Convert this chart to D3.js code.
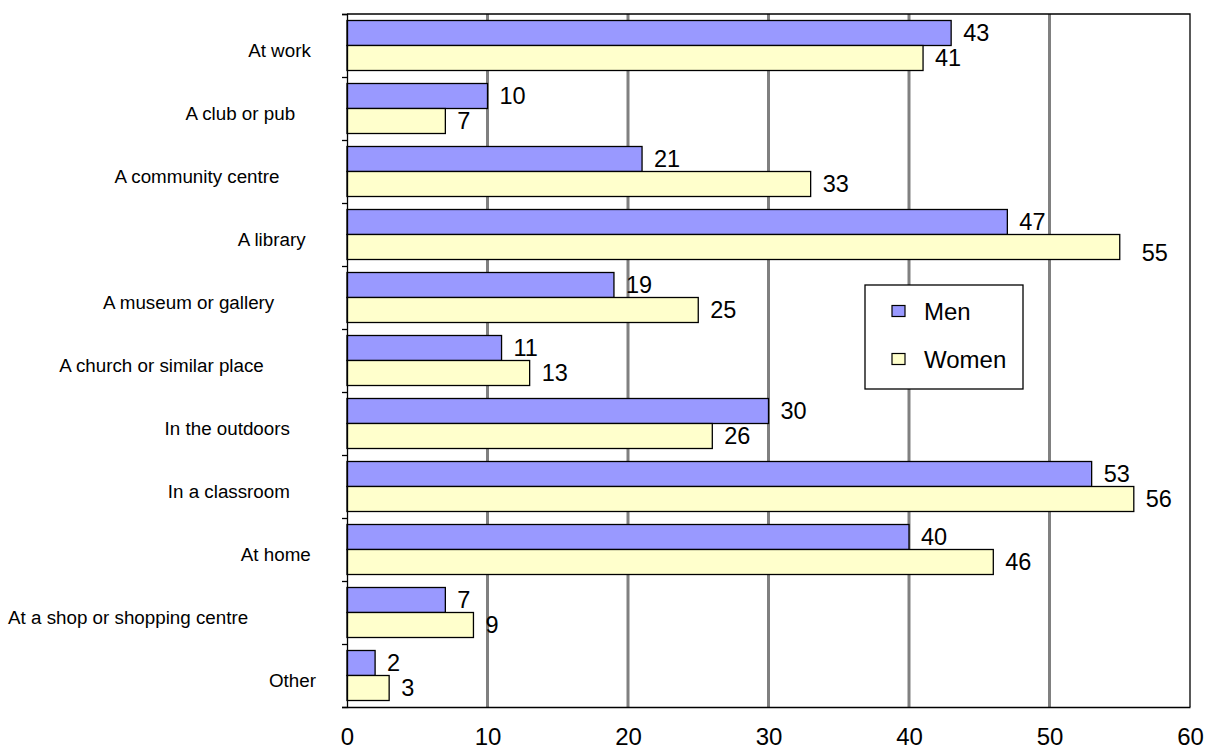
<!DOCTYPE html>
<html>
<head>
<meta charset="utf-8">
<script src="https://cdn.jsdelivr.net/npm/d3@7"></script>
<style>
  html, body { margin: 0; padding: 0; background: #ffffff; }
  svg { display: block; font-family: Arial, "Liberation Sans", sans-serif; }
  .cat { white-space: pre; }
</style>
</head>
<body>
<svg id="chart" width="1211" height="749"></svg>
<script>
// Where people learn: share of men and women (%) by place
const categories = [
  "At work ",
  "A club or pub    ",
  "A community centre       ",
  "A library  ",
  "A museum or gallery        ",
  "A church or similar place          ",
  "In the outdoors     ",
  "In a classroom     ",
  "At home ",
  "At a shop or shopping centre             ",
  "Other"
];
const seriesNames = ["Men", "Women"];
const menValues   = [43, 10, 21, 47, 19, 11, 30, 53, 40, 7, 2];
const womenValues = [41, 7, 33, 55, 25, 13, 26, 56, 46, 9, 3];
const xTicks = [0, 10, 20, 30, 40, 50, 60];
const gridValues = [10, 20, 30, 40, 50];

const colors = { Men: "#9999ff", Women: "#ffffcc" };

const svg = d3.select("#chart");
const plot = { left: 347, right: 1190, top: 14, bottom: 707 };

const x = d3.scaleLinear().domain([0, 60]).range([plot.left, plot.right]);
const y = d3.scaleBand().domain(categories).range([plot.top, plot.bottom]).padding(0);
const ySub = d3.scaleBand().domain(seriesNames).range([0, y.bandwidth()])
  .paddingInner(0).paddingOuter(0.26);
const yEdge = d3.scaleLinear().domain([0, categories.length]).range([plot.top, plot.bottom]);

const rows = categories.map((c, i) => ({ cat: c, Men: menValues[i], Women: womenValues[i] }));

// gridlines
svg.append("g").selectAll("line").data(gridValues).join("line")
  .attr("x1", d => x(d)).attr("x2", d => x(d))
  .attr("y1", plot.top).attr("y2", plot.bottom)
  .attr("stroke", "#808080").attr("stroke-width", 3);

// plot frame (top and right)
svg.append("path")
  .attr("d", `M${plot.left},${plot.top}H${plot.right}V${plot.bottom}`)
  .attr("fill", "none").attr("stroke", "#000").attr("stroke-width", 1.3);

// bars
const groups = svg.append("g").selectAll("g").data(rows).join("g")
  .attr("transform", d => `translate(0,${y(d.cat)})`);

groups.selectAll("rect").data(d => seriesNames.map(s => ({ s, v: d[s], cat: d.cat }))).join("rect")
  .attr("x", x(0))
  .attr("y", d => ySub(d.s))
  .attr("width", d => x(d.v) - x(0))
  .attr("height", ySub.bandwidth())
  .attr("fill", d => colors[d.s])
  .attr("stroke", "#000").attr("stroke-width", 1.3);

// value labels (the library/women label sits clear of the gridline)
const nudge = d => (d.cat.trim() === "A library" && d.s === "Women") ? [10, 6] : [0, 0];
groups.selectAll("text").data(d => seriesNames.map(s => ({ s, v: d[s], cat: d.cat }))).join("text")
  .attr("x", d => x(d.v) + 12 + nudge(d)[0])
  .attr("y", d => ySub(d.s) + ySub.bandwidth() / 2 + 7.5 + nudge(d)[1])
  .attr("font-size", 23.5)
  .attr("fill", "#000")
  .text(d => d.v);

// left axis: ticks at category boundaries
const yAxis = d3.axisLeft(yEdge).tickValues(d3.range(0, categories.length + 1))
  .tickSize(5).tickFormat("");
const ga = svg.append("g").attr("transform", `translate(${plot.left},0)`).call(yAxis);
ga.select(".domain").attr("stroke", "#000").attr("stroke-width", 1.3);
ga.selectAll(".tick line").attr("stroke", "#000").attr("stroke-width", 1.3);

// category labels
svg.append("g").selectAll("text").data(categories).join("text")
  .attr("class", "cat")
  .attr("x", 316)
  .attr("y", d => y(d) + y.bandwidth() / 2 + 11)
  .attr("text-anchor", "end")
  .attr("font-size", 18.8)
  .attr("fill", "#000")
  .text(d => d);

// bottom axis
const xAxis = d3.axisBottom(x).tickValues(xTicks).tickSize(0).tickPadding(21);
const gx = svg.append("g").attr("transform", `translate(0,${plot.bottom})`).call(xAxis);
gx.select(".domain").attr("stroke", "#000").attr("stroke-width", 1.3);
gx.selectAll(".tick text")
  .attr("font-family", "Arial, 'Liberation Sans', sans-serif")
  .attr("font-size", 24).attr("fill", "#000");

// legend
const legend = svg.append("g").attr("transform", "translate(865,285)");
legend.append("rect").attr("width", 158).attr("height", 104)
  .attr("fill", "#fff").attr("stroke", "#000").attr("stroke-width", 1.3);
const li = legend.selectAll("g").data(seriesNames).join("g")
  .attr("transform", (d, i) => `translate(0,${26 + i * 48})`);
li.append("rect").attr("x", 27).attr("y", -5.5).attr("width", 13).attr("height", 11)
  .attr("fill", d => colors[d]).attr("stroke", "#000").attr("stroke-width", 1.2);
li.append("text").attr("x", 59).attr("y", 8.5)
  .attr("font-size", 24).attr("fill", "#000").text(d => d);
</script>
</body>
</html>
